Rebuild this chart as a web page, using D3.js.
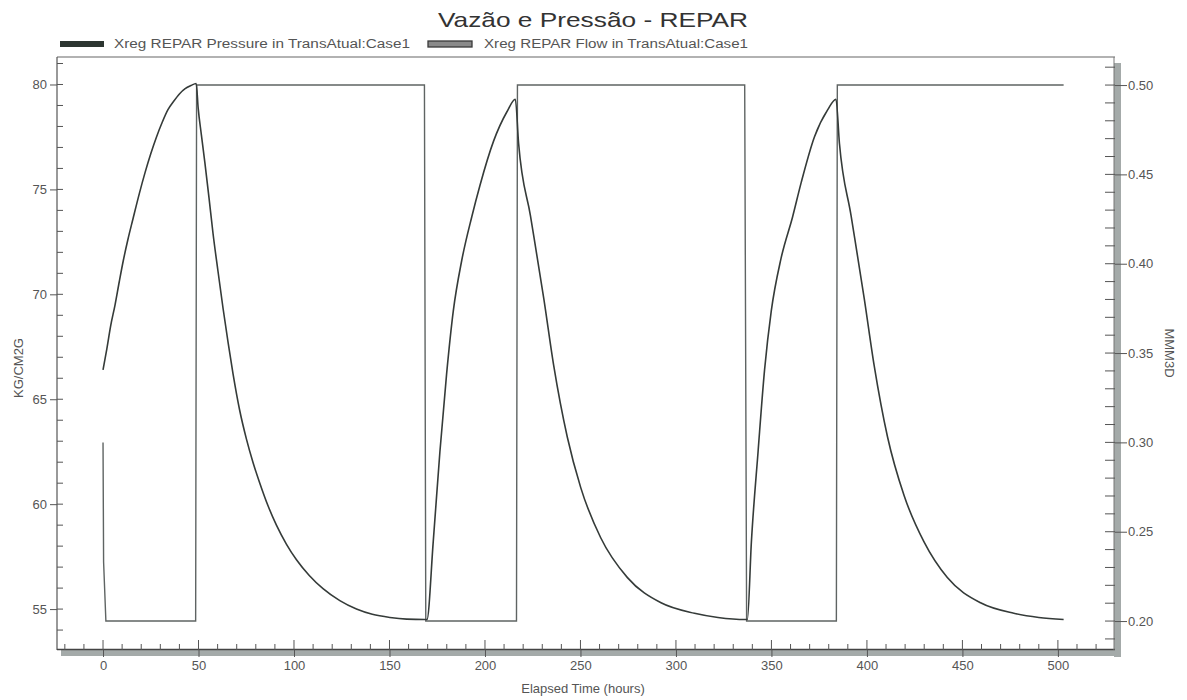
<!DOCTYPE html>
<html>
<head>
<meta charset="utf-8">
<script src="https://cdn.jsdelivr.net/npm/d3@7"></script>
<style>
  html, body { margin: 0; padding: 0; background: #fff; }
  svg { display: block; font-family: "Liberation Sans", Arial, sans-serif; }
</style>
</head>
<body>
<svg id="chart" width="1187" height="700"></svg>
<script>
// ---------------- DATA ----------------
const chartTitle = "Vazão e Pressão - REPAR";
const seriesNames = ["Xreg REPAR Pressure in TransAtual:Case1", "Xreg REPAR Flow in TransAtual:Case1"];
const xTitle = "Elapsed Time (hours)";
const yLeftTitle = "KG/CM2G";
const yRightTitle = "MMM3D";

const xTickValues = [0, 50, 100, 150, 200, 250, 300, 350, 400, 450, 500];
const yLeftTickValues = [55, 60, 65, 70, 75, 80];
const yRightTickValues = [0.20, 0.25, 0.30, 0.35, 0.40, 0.45, 0.50];

// Pressure (KG/CM2G, left axis)
const pressureTime = [
  0, 2, 4, 6.3, 8.5, 10.6, 13, 15.7, 19, 22, 25, 28, 31, 34, 37, 40, 43, 46, 48.8,
  49.8, 51.5, 53.3, 55.5, 57.6, 60.2, 62.9, 65.5, 68.1, 71.5, 75.1, 78.5, 82.1, 86.5, 90.8, 96, 101.3, 108, 115.2, 124, 132.7, 141, 150.2, 159, 168.5,
  169.6, 172.9, 176.4, 179.9, 183.4, 187.8, 193.1, 197.4, 204.5, 211.5, 215.9,
  217.6, 223.8, 230.8, 236.0, 243.1, 250.1, 260.6, 274.6, 292.2, 309.7, 322, 336.5,
  337.4, 339.5, 343, 346.4, 349.9, 355, 361.1, 365.5, 372.5, 379.5, 383.8,
  385.6, 391.7, 398.6, 403.8, 410.8, 419.5, 429.9, 442.1, 459.5, 476.9, 490, 503
];
const pressureValue = [
  66.4, 67.4, 68.5, 69.5, 70.6, 71.6, 72.6, 73.6, 74.8, 75.8, 76.7, 77.5, 78.2, 78.8, 79.2, 79.55, 79.8, 79.95, 80.05,
  78.9, 77.6, 76.3, 74.6, 72.9, 71.1, 69.3, 67.7, 66.2, 64.5, 63.1, 62.0, 61.0, 59.9, 59.0, 58.1, 57.35, 56.6, 55.97, 55.4, 55.0, 54.75, 54.6, 54.52, 54.5,
  54.5, 58.2, 62.5, 66.2, 69.2, 71.6, 73.7, 75.2, 77.3, 78.7, 79.3,
  77.2, 73.75, 69.8, 66.6, 63.2, 60.8, 58.4, 56.5, 55.3, 54.8, 54.6, 54.5,
  54.5, 58.2, 62.5, 66.4, 69.2, 71.7, 73.7, 75.3, 77.5, 78.8, 79.3,
  77.2, 73.75, 69.8, 66.6, 63.2, 60.4, 58.2, 56.5, 55.3, 54.8, 54.6, 54.5
];

// Flow (MMM3D, right axis)
const flowTime  = [0, 0.3, 1.5, 48.5, 49, 168.3, 169, 216.5, 217, 336, 337, 384, 384.5, 503];
const flowValue = [0.30, 0.233, 0.20, 0.20, 0.50, 0.50, 0.20, 0.20, 0.50, 0.50, 0.20, 0.20, 0.50, 0.50];

// ---------------- LAYOUT ----------------
const L = 57, R = 1115, T = 57, B = 650;
const svg = d3.select("#chart");

const x = d3.scaleLinear().domain([-24.1, 529.9]).range([L, R]);
const yL = d3.scaleLinear().domain([53.05, 81.31]).range([B, T]);
const yR = d3.scaleLinear().domain([0.1838, 0.5157]).range([B, T]);

const axisColor = "#555";
const textColor = "#555";

// Title
svg.append("text")
  .attr("x", 593).attr("y", 27)
  .attr("text-anchor", "middle")
  .attr("font-size", 21)
  .attr("fill", "#333")
  .attr("textLength", 310).attr("lengthAdjust", "spacingAndGlyphs")
  .text(chartTitle);

// Legend
const legend = svg.append("g");
legend.append("rect").attr("x", 60).attr("y", 41).attr("width", 44).attr("height", 6)
  .attr("fill", "#2c3531");
legend.append("text").attr("x", 114).attr("y", 48).attr("font-size", 12)
  .attr("fill", textColor)
  .attr("textLength", 296).attr("lengthAdjust", "spacingAndGlyphs")
  .text(seriesNames[0]);
legend.append("rect").attr("x", 428).attr("y", 41).attr("width", 44).attr("height", 6)
  .attr("fill", "#8a8a8a").attr("stroke", "#3a3a3a").attr("stroke-width", 1.3);
legend.append("text").attr("x", 484).attr("y", 48).attr("font-size", 12)
  .attr("fill", textColor)
  .attr("textLength", 264).attr("lengthAdjust", "spacingAndGlyphs")
  .text(seriesNames[1]);

// Frame shadow bands (3D look)
svg.append("rect").attr("x", R - 1).attr("y", T + 6).attr("width", 7).attr("height", B - T + 1)
  .attr("fill", "#a4aaa9");
svg.append("rect").attr("x", L + 4).attr("y", B).attr("width", R - L + 2).attr("height", 6)
  .attr("fill", "#a4aaa9");

// Frame lines
svg.append("line").attr("x1", L).attr("x2", R).attr("y1", T).attr("y2", T)
  .attr("stroke", "#666").attr("stroke-width", 1.2);
svg.append("line").attr("x1", L).attr("x2", L).attr("y1", T).attr("y2", B)
  .attr("stroke", "#555").attr("stroke-width", 1.2);
svg.append("line").attr("x1", L).attr("x2", R).attr("y1", B - 0.5).attr("y2", B - 0.5)
  .attr("stroke", "#444").attr("stroke-width", 1.3);
svg.append("line").attr("x1", R - 1).attr("x2", R - 1).attr("y1", T).attr("y2", B)
  .attr("stroke", "#777").attr("stroke-width", 1);

// ---- Left axis ----
const gL = svg.append("g").attr("transform", `translate(${L},0)`)
  .call(d3.axisLeft(yL).tickValues(yLeftTickValues).tickSize(7).tickPadding(3).tickFormat(d3.format("d")));
gL.select(".domain").remove();
gL.selectAll(".tick line").attr("stroke", axisColor);
gL.selectAll(".tick text").attr("font-size", 13).attr("fill", textColor).attr("font-family", "Liberation Sans, Arial, sans-serif");
svg.append("g").selectAll("line").data(d3.range(54, 82, 1)).join("line")
  .attr("x1", L).attr("x2", L + 6)
  .attr("y1", d => yL(d)).attr("y2", d => yL(d))
  .attr("stroke", axisColor).attr("stroke-width", 1);

// ---- Right axis ----
const gR = svg.append("g").attr("transform", `translate(${R},0)`)
  .call(d3.axisRight(yR).tickValues(yRightTickValues).tickSize(12).tickPadding(1).tickFormat(d3.format(".2f")));
gR.select(".domain").remove();
gR.selectAll(".tick line").attr("stroke", axisColor);
gR.selectAll(".tick text").attr("font-size", 13).attr("fill", textColor).attr("font-family", "Liberation Sans, Arial, sans-serif");
svg.append("g").selectAll("line").data(d3.range(19, 52, 1).map(d => d / 100)).join("line")
  .attr("x1", R - 10).attr("x2", R)
  .attr("y1", d => yR(d)).attr("y2", d => yR(d))
  .attr("stroke", axisColor).attr("stroke-width", 1);

// ---- Bottom axis ----
const gB = svg.append("g").attr("transform", `translate(0,${B})`)
  .call(d3.axisBottom(x).tickValues(xTickValues).tickSize(7).tickPadding(4).tickFormat(d3.format("d")));
gB.select(".domain").remove();
gB.selectAll(".tick line").attr("stroke", axisColor);
gB.selectAll(".tick text").attr("font-size", 13).attr("fill", textColor).attr("font-family", "Liberation Sans, Arial, sans-serif");
svg.append("g").selectAll("line").data(d3.range(-20, 530, 10)).join("line")
  .attr("x1", d => x(d)).attr("x2", d => x(d))
  .attr("y1", d => B - (d % 50 === 0 ? 10 : 6)).attr("y2", B)
  .attr("stroke", axisColor).attr("stroke-width", 1);

// Axis titles
svg.append("text").attr("x", 583).attr("y", 693).attr("text-anchor", "middle")
  .attr("font-size", 13).attr("fill", textColor).text(xTitle);
svg.append("text").attr("transform", "translate(23,368) rotate(-90)").attr("text-anchor", "middle")
  .attr("font-size", 13).attr("fill", textColor).text(yLeftTitle);
svg.append("text").attr("transform", "translate(1165,353) rotate(90)").attr("text-anchor", "middle")
  .attr("font-size", 13).attr("fill", textColor).text(yRightTitle);

// ---- Series ----
const flowData = flowTime.map((t, i) => [t, flowValue[i]]);
const pressureData = pressureTime.map((t, i) => [t, pressureValue[i]]);

svg.append("path").datum(flowData)
  .attr("fill", "none").attr("stroke", "#5f6463").attr("stroke-width", 1.4)
  .attr("d", d3.line().x(d => x(d[0])).y(d => yR(d[1])));

svg.append("path").datum(pressureData)
  .attr("fill", "none").attr("stroke", "#353b39").attr("stroke-width", 1.6)
  .attr("d", d3.line().curve(d3.curveMonotoneX).x(d => x(d[0])).y(d => yL(d[1])));
</script>
</body>
</html>
